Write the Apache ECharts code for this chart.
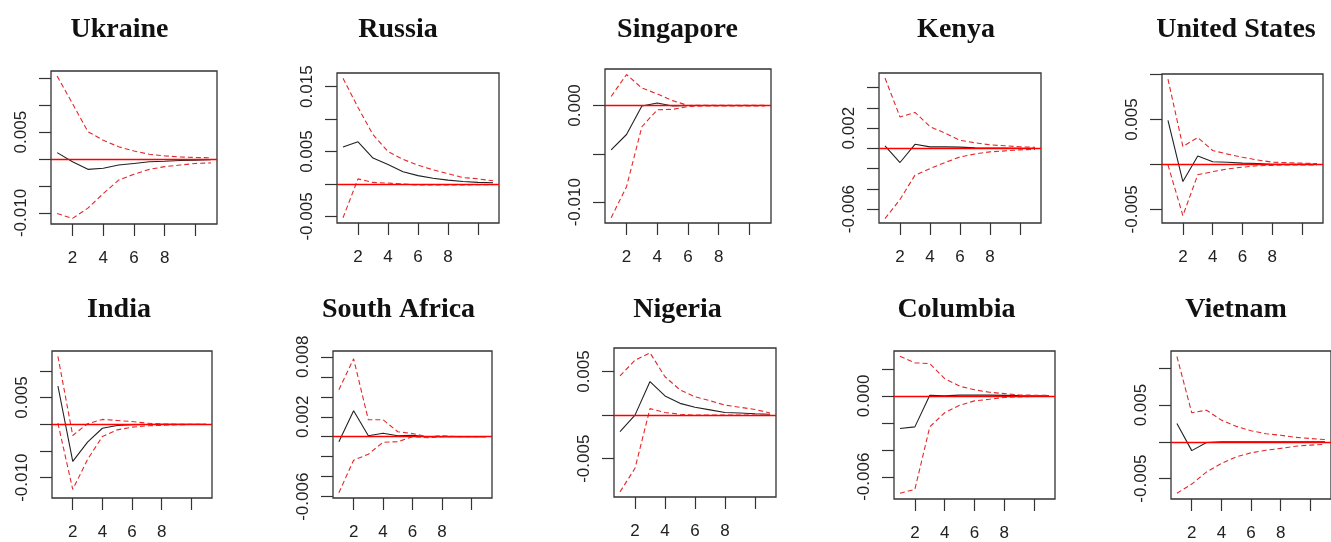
<!DOCTYPE html>
<html>
<head>
<meta charset="utf-8">
<title>Impulse responses</title>
<script src="https://cdn.jsdelivr.net/npm/echarts@6/dist/echarts.min.js"></script>
<style>
    html, body { margin: 0; padding: 0; background: #fff; }
    #chart { width: 1331px; height: 542px; }
</style>
</head>
<body>
<div id="chart"></div>
<script>
// horizon of the impulse response
let periods = [1, 2, 3, 4, 5, 6, 7, 8, 9, 10, 11];
let countryNames = ['Ukraine', 'Russia', 'Singapore', 'Kenya', 'United States',
    'India', 'South Africa', 'Nigeria', 'Columbia', 'Vietnam'];

// response (black) with lower / upper bands (red dashed)
let ukraineResponse = [0.0012, -0.0005, -0.0019, -0.0017, -0.0011, -0.0008, -0.0005, -0.0004, -0.00025, -0.0002, -0.0001];
let ukraineLower = [-0.0101, -0.0110, -0.0091, -0.0064, -0.0039, -0.0028, -0.0019, -0.0014, -0.0011, -0.0008, -0.0007];
let ukraineUpper = [0.0154, 0.0103, 0.0051, 0.0035, 0.0023, 0.0015, 0.0009, 0.0006, 0.0004, 0.0003, 0.00025];

let russiaResponse = [0.0057, 0.0065, 0.0040, 0.0030, 0.0019, 0.0013, 0.0009, 0.0006, 0.0004, 0.00025, 0.0002];
let russiaLower = [-0.0052, 0.0008, 0.00025, 0.00015, 0.0, -0.00015, -0.00015, -0.00015, -0.00015, -0.0001, -0.0001];
let russiaUpper = [0.0163, 0.0118, 0.0076, 0.0050, 0.0038, 0.0029, 0.0022, 0.0016, 0.0010, 0.0008, 0.0005];

let singaporeResponse = [-0.0046, -0.0030, -0.00005, 0.00025, -0.00005, 0, 0, 0, 0, 0, 0];
let singaporeLower = [-0.0116, -0.0084, -0.0022, -0.00045, -0.0004, -0.0001, -0.00005, -0.00005, -0.00005, -0.00005, -0.00005];
let singaporeUpper = [0.00093, 0.0032, 0.0018, 0.0012, 0.0005, 0.0, 0.00003, 0.00003, 0.00003, 0.00003, 0.00003];

let kenyaResponse = [0.00025, -0.0014, 0.0004, 0.00015, 0.00015, 0.00012, 0.00005, 0.00002, 0.00002, 0.00001, 0.00001];
let kenyaLower = [-0.00695, -0.00505, -0.00265, -0.0020, -0.0014, -0.00085, -0.00055, -0.00035, -0.00025, -0.00015, -0.0001];
let kenyaUpper = [0.00695, 0.0031, 0.00355, 0.00215, 0.0015, 0.0008, 0.00055, 0.00035, 0.00025, 0.00015, 0.0001];

let usResponse = [0.0049, -0.0019, 0.00095, 0.0003, 0.00025, 0.00015, 0.0001, 0.00002, 0.00002, 0.00001, 0.00001];
let usLower = [-0.00005, -0.0057, -0.00115, -0.0008, -0.0005, -0.0003, -0.00015, -0.0001, -0.00005, -0.00005, -0.00005];
let usUpper = [0.0095, 0.0020, 0.0030, 0.00155, 0.00115, 0.0008, 0.0005, 0.00025, 0.0002, 0.00015, 0.0001];

let indiaResponse = [0.00715, -0.00695, -0.00335, -0.00075, -0.00025, -0.0001, -0.00005, 0, 0, 0, 0];
let indiaLower = [0.0002, -0.0122, -0.0066, -0.0023, -0.00105, -0.00055, -0.0003, -0.0002, -0.0001, -0.00005, -0.00005];
let indiaUpper = [0.0127, -0.0021, 0.0001, 0.0009, 0.0007, 0.0005, 0.0002, 0.00005, 0, 0, 0];

let southAfricaResponse = [-0.0005, 0.0026, 0.0001, 0.00035, 0.0001, 0.00015, 0, 0, 0, 0, 0];
let southAfricaLower = [-0.0056, -0.00235, -0.00175, -0.00055, -0.0005, 0, -0.0001, 0, 0, 0, 0];
let southAfricaUpper = [0.0047, 0.0078, 0.0017, 0.0017, 0.0005, 0.00033, 0, 0.0001, 0, 0, 0];

let nigeriaResponse = [-0.0019, 0, 0.00385, 0.0022, 0.00135, 0.0009, 0.0006, 0.0003, 0.00025, 0.00015, 0.0001];
let nigeriaLower = [-0.0088, -0.0061, 0.00075, 0.0003, 0.0001, 0, 0, 0, 0, 0, 0];
let nigeriaUpper = [0.0045, 0.0063, 0.00715, 0.0044, 0.0029, 0.0021, 0.00165, 0.00115, 0.0009, 0.00065, 0.00025];

let columbiaResponse = [-0.00242, -0.0023, 0.00005, 0.0, 0.00006, 0.00006, 0.00006, 0.00004, 0.00002, 0.00001, 0.00001];
let columbiaLower = [-0.00723, -0.00694, -0.0023, -0.00125, -0.0007, -0.00037, -0.00025, -0.00012, -0.00007, -0.00003, -0.00003];
let columbiaUpper = [0.00294, 0.00245, 0.0024, 0.00128, 0.00072, 0.00045, 0.00027, 0.00017, 0.00007, 0.00005, 0.00005];

let vietnamResponse = [0.0025, -0.0012, -0.0001, 0, 0, 0, 0, 0, 0, 0, 0];
let vietnamLower = [-0.0070, -0.00575, -0.0041, -0.00295, -0.00205, -0.0015, -0.00115, -0.0009, -0.0006, -0.00045, -0.00035];
let vietnamUpper = [0.0116, 0.00395, 0.0043, 0.00295, 0.0021, 0.0015, 0.0011, 0.0009, 0.0006, 0.00045, 0.0003];

// axis ticks; R only printed some of the y labels
let xTicks = [2, 4, 6, 8, 10];
let xLabels = [2, 4, 6, 8];
let ukraineTicks = [-0.010, -0.005, 0, 0.005, 0.010, 0.015];
let ukraineLabels = [-0.010, 0.005];
let russiaTicks = [-0.005, 0, 0.005, 0.010, 0.015];
let russiaLabels = [-0.005, 0.005, 0.015];
let singaporeTicks = [-0.010, -0.005, 0];
let singaporeLabels = [-0.010, 0];
let kenyaTicks = [-0.006, -0.004, -0.002, 0, 0.002, 0.004, 0.006];
let kenyaLabels = [-0.006, 0.002];
let usTicks = [-0.005, 0, 0.005, 0.010];
let usLabels = [-0.005, 0.005];
let indiaTicks = [-0.010, -0.005, 0, 0.005, 0.010];
let indiaLabels = [-0.010, 0.005];
let southAfricaTicks = [-0.006, -0.004, -0.002, 0, 0.002, 0.004, 0.006, 0.008];
let southAfricaLabels = [-0.006, 0.002, 0.008];
let nigeriaTicks = [-0.005, 0, 0.005];
let nigeriaLabels = [-0.005, 0.005];
let columbiaTicks = [-0.006, -0.004, -0.002, 0, 0.002];
let columbiaLabels = [-0.006, 0];
let vietnamTicks = [-0.005, 0, 0.005, 0.010];
let vietnamLabels = [-0.005, 0.005];

// panel placement: plot box [left, top, width, height], y range, title centre
let panels = [
    {resp: ukraineResponse, lower: ukraineLower, upper: ukraineUpper, ticks: ukraineTicks, labels: ukraineLabels,
        yMin: -0.01204, yMax: 0.01635, box: [51, 71, 166, 153], titleX: 119.5},
    {resp: russiaResponse, lower: russiaLower, upper: russiaUpper, ticks: russiaTicks, labels: russiaLabels,
        yMin: -0.0060, yMax: 0.0171, box: [337, 73, 162, 150], titleX: 398},
    {resp: singaporeResponse, lower: singaporeLower, upper: singaporeUpper, ticks: singaporeTicks, labels: singaporeLabels,
        yMin: -0.01215, yMax: 0.00377, box: [605, 69, 166, 154], titleX: 677.5},
    {resp: kenyaResponse, lower: kenyaLower, upper: kenyaUpper, ticks: kenyaTicks, labels: kenyaLabels,
        yMin: -0.00738, yMax: 0.00745, box: [879, 73, 162, 150], titleX: 956},
    {resp: usResponse, lower: usLower, upper: usUpper, ticks: usTicks, labels: usLabels,
        yMin: -0.00652, yMax: 0.01007, box: [1162, 74, 161, 149], titleX: 1236},
    {resp: indiaResponse, lower: indiaLower, upper: indiaUpper, ticks: indiaTicks, labels: indiaLabels,
        yMin: -0.0138, yMax: 0.0137, box: [52, 351, 160, 147], titleX: 119},
    {resp: southAfricaResponse, lower: southAfricaLower, upper: southAfricaUpper, ticks: southAfricaTicks, labels: southAfricaLabels,
        yMin: -0.00613, yMax: 0.00858, box: [333, 351, 159, 147], titleX: 398.5},
    {resp: nigeriaResponse, lower: nigeriaLower, upper: nigeriaUpper, ticks: nigeriaTicks, labels: nigeriaLabels,
        yMin: -0.00939, yMax: 0.0077, box: [614, 348, 162, 149], titleX: 677.5},
    {resp: columbiaResponse, lower: columbiaLower, upper: columbiaUpper, ticks: columbiaTicks, labels: columbiaLabels,
        yMin: -0.00765, yMax: 0.00333, box: [894, 351, 161, 148], titleX: 956.5},
    {resp: vietnamResponse, lower: vietnamLower, upper: vietnamUpper, ticks: vietnamTicks, labels: vietnamLabels,
        yMin: -0.00778, yMax: 0.01235, box: [1171, 351, 161, 148], titleX: 1236}
];

let axisFont = {fontFamily: 'Liberation Sans', fontSize: 17, color: '#222'};
let tickStyle = {color: '#333', width: 1.2};

function toPoints(values) {
    return periods.map(function (p, i) {
        return [p, values[i]];
    });
}

function bandSeries(values, i) {
    return {
        type: 'line',
        xAxisIndex: i,
        yAxisIndex: i,
        data: toPoints(values),
        showSymbol: false,
        silent: true,
        z: 3,
        lineStyle: {color: '#e22a2a', width: 1.1, type: [5, 3]}
    };
}

let option = {animation: false, title: [], grid: [], xAxis: [], yAxis: [], series: []};

panels.forEach(function (panel, i) {
    let row = i < 5 ? 0 : 1;
    option.title.push({
        text: countryNames[i],
        left: panel.titleX,
        top: row ? 296 : 16,
        padding: 0,
        textAlign: 'center',
        textStyle: {fontFamily: 'Liberation Serif', fontWeight: 'bold', fontSize: 28, color: '#111'}
    });
    option.grid.push({
        left: panel.box[0],
        top: panel.box[1],
        width: panel.box[2],
        height: panel.box[3],
        show: true,
        borderColor: '#333',
        borderWidth: 1.3
    });
    option.xAxis.push({
        type: 'value',
        gridIndex: i,
        min: 0.6,
        max: 11.4,
        axisLine: {show: false, onZero: false},
        splitLine: {show: false},
        axisTick: {customValues: xTicks, length: 12, lineStyle: tickStyle},
        axisLabel: Object.assign({customValues: xLabels, margin: 26}, axisFont)
    });
    option.yAxis.push({
        type: 'value',
        gridIndex: i,
        min: panel.yMin,
        max: panel.yMax,
        axisLine: {show: false, onZero: false},
        splitLine: {show: false},
        axisTick: {customValues: panel.ticks, length: 12, lineStyle: tickStyle},
        axisLabel: Object.assign({
            customValues: panel.labels,
            rotate: 90,
            margin: 21,
            formatter: function (v) { return v.toFixed(3); }
        }, axisFont)
    });
    option.series.push({
        type: 'line',
        xAxisIndex: i,
        yAxisIndex: i,
        data: toPoints(panel.resp),
        showSymbol: false,
        silent: true,
        z: 2,
        lineStyle: {color: '#222', width: 1.1},
        markLine: {
            silent: true,
            symbol: ['none', 'none'],
            label: {show: false},
            lineStyle: {color: '#f00', type: 'solid', width: 1.4},
            data: [{yAxis: 0}]
        }
    });
    option.series.push(bandSeries(panel.lower, i));
    option.series.push(bandSeries(panel.upper, i));
});

let myChart = echarts.init(document.getElementById('chart'));
myChart.setOption(option);
</script>
</body>
</html>
